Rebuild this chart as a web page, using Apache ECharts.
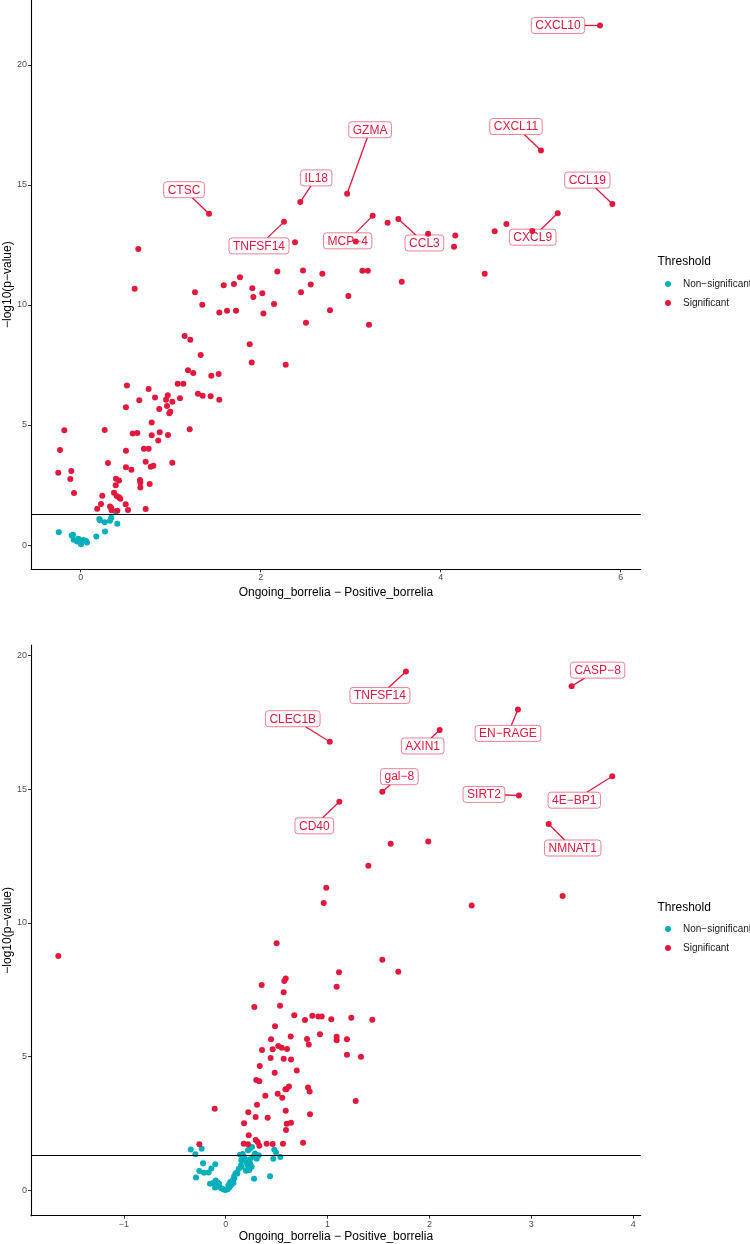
<!DOCTYPE html>
<html>
<head>
<meta charset="utf-8">
<script src="https://cdn.jsdelivr.net/npm/echarts@6/dist/echarts.min.js"></script>
<style>html,body{margin:0;padding:0;background:#fff}#c{width:750px;height:1244px}</style>
</head>
<body>
<div id="c"></div>
<script>
// ---------------- DATA ----------------
const legendNames = ['Non-significant', 'Significant'];
const xAxisTitle = 'Ongoing_borrelia − Positive_borrelia';
const yAxisTitle = '−log10(p−value)';
const threshold = 1.30103; // -log10(0.05)

// Panel A (top)
const topXTicks = [0, 2, 4, 6];
const topYTicks = [0, 5, 10, 15, 20];
const topLabelNames = ['CXCL10','CXCL11','CCL19','CXCL9','CCL3','GZMA','IL18','CTSC','TNFSF14','MCP−4'];
const topLabelX = [5.77, 5.114, 5.907, 5.30, 3.53, 2.96, 2.44, 1.426, 2.259, 3.244];
const topLabelY = [21.64, 16.43, 14.20, 13.82, 13.58, 14.63, 14.29, 13.80, 13.46, 13.71];
const topSignificant = [
 [3.056,12.64],[3.86,12.96],[5.018,13.08],[3.41,13.42],[4.162,12.89],[4.148,12.42],[4.60,13.07],[4.73,13.375],
 [4.489,11.30],[3.567,10.97],[3.13,11.42],[3.19,11.42],[2.381,12.61],[0.64,12.33],[0.60,10.67],[2.185,11.39],
 [2.47,11.43],[2.685,11.30],[1.27,10.53],[1.589,10.82],[1.703,10.875],[1.77,11.15],[1.907,10.69],[1.918,10.33],
 [2.018,10.49],[2.448,10.53],[2.556,10.85],[2.974,10.375],[1.351,10.01],[1.54,9.68],[1.626,9.76],[1.726,9.76],
 [2.03,9.64],[2.148,10.04],[2.77,9.78],[2.503,9.26],[3.203,9.18],[1.155,8.71],[1.218,8.55],[1.878,8.36],
 [1.333,7.92],[1.90,7.60],[2.278,7.51],[1.192,7.28],[1.251,7.17],[1.451,7.05],[1.533,7.125],[1.078,6.72],
 [1.14,6.72],[0.514,6.64],[0.755,6.50],[1.303,6.30],[1.355,6.22],[1.444,6.195],[0.826,6.14],[0.967,6.24],
 [0.948,6.05],[1.018,5.97],[1.103,6.11],[0.651,6.03],[1.54,6.05],[0.503,5.74],[0.873,5.67],[0.959,5.79],
 [0.996,5.55],[0.985,5.49],[-0.182,4.78],[0.267,4.79],[1.211,4.82],[0.789,5.10],[0.578,4.65],[0.629,4.67],
 [0.878,4.70],[0.789,4.57],[0.97,4.58],[0.862,4.35],[-0.23,3.96],[0.503,3.93],[0.703,4.01],[0.755,4.01],
 [0.303,3.42],[0.722,3.47],[1.018,3.43],[0.503,3.24],[0.563,3.14],[0.778,3.26],[0.807,3.30],[-0.249,3.01],
 [-0.104,3.08],[-0.115,2.75],[0.392,2.76],[0.426,2.69],[0.659,2.71],[0.663,2.61],[0.389,2.49],[0.663,2.40],
 [0.767,2.54],[-0.074,2.17],[0.37,2.18],[0.24,2.05],[0.40,2.04],[0.426,1.99],[0.44,1.93],[0.226,1.71],
 [0.50,1.70],[0.184,1.51],[0.326,1.61],[0.34,1.54],[0.344,1.45],[0.407,1.43],[0.526,1.46],[0.722,1.50]
];
const topNonSignificant = [
 [-0.244,0.53],[-0.1,0.40],[-0.086,0.43],[-0.078,0.22],[-0.027,0.26],[-0.016,0.21],[-0.041,0.15],[0.003,0.03],
 [0.03,0.21],[0.059,0.17],[0.07,0.11],[0.174,0.36],[0.27,0.56],[0.207,1.08],[0.214,1.03],[0.267,0.95],
 [0.326,1.01],[0.34,1.14],[0.407,0.89],[0.384,1.40]
];

// Panel B (bottom)
const botXTicks = [-1, 0, 1, 2, 3, 4];
const botYTicks = [0, 5, 10, 15, 20];
const botLabelNames = ['TNFSF14','CASP−8','EN−RAGE','AXIN1','CLEC1B','gal−8','SIRT2','4E−BP1','CD40','NMNAT1'];
const botLabelX = [1.769, 3.395, 2.868, 2.10, 1.021, 1.537, 2.878, 3.794, 1.115, 3.17];
const botLabelY = [19.41, 18.86, 17.99, 17.22, 16.78, 14.91, 14.77, 15.49, 14.53, 13.70];
const botSignificant = [
 [1.40,12.14],[0.987,11.31],[0.962,10.74],[1.619,12.96],[1.988,13.05],[2.414,10.65],[3.307,11.01],
 [1.537,8.62],[1.694,8.17],[1.112,8.15],[1.089,7.61],[0.778,6.36],[0.85,6.52],[0.909,6.50],[0.942,6.50],
 [1.036,6.39],[1.233,6.45],[1.439,6.37],[-1.643,8.76],[0.50,9.24],[0.353,7.67],[0.589,7.92],[0.575,7.82],
 [0.569,7.40],[0.281,6.85],[0.533,6.90],[0.673,6.54],[0.484,6.13],[0.925,5.83],[0.638,5.75],[0.445,5.64],
 [0.798,5.65],[0.815,5.45],[1.089,5.74],[1.089,5.61],[1.19,5.64],[1.19,5.06],[1.328,4.99],[0.516,5.39],
 [0.55,5.33],[0.461,5.27],[0.602,5.28],[0.356,5.24],[0.441,4.94],[0.569,4.91],[0.641,4.89],[0.334,4.64],
 [0.697,4.47],[0.481,4.39],[0.30,4.12],[0.33,4.07],[0.621,3.88],[0.586,3.77],[0.596,3.77],[0.808,3.84],
 [0.824,3.69],[0.389,3.53],[0.51,3.60],[0.555,3.45],[1.276,3.33],[0.307,3.19],[-0.108,3.04],[0.222,2.91],
 [0.589,2.97],[0.827,2.84],[0.294,2.73],[0.412,2.71],[0.18,2.50],[0.599,2.48],[0.641,2.52],[0.592,2.25],
 [0.226,2.05],[0.294,1.87],[0.314,1.80],[0.177,1.73],[0.219,1.71],[0.33,1.66],[0.402,1.73],[0.461,1.72],
 [0.562,1.73],[0.759,1.77],[-0.259,1.71]
];
const botNonSignificant = [
 [-0.343,1.52],[-0.298,1.34],[-0.236,1.55],[-0.223,1.00],[-0.259,0.71],[-0.213,0.65],[-0.291,0.47],[-0.167,0.66],
 [-0.141,0.81],[-0.102,0.97],[-0.154,0.24],[-0.125,0.26],[-0.098,0.36],[-0.082,0.29],[-0.066,0.24],[-0.105,0.10],
 [-0.069,0.12],[-0.043,0.07],[-0.024,0.03],[-0.004,0.00],[0.019,0.03],[0.035,0.10],[0.052,0.18],[0.075,0.26],
 [0.026,0.19],[0.062,0.31],[0.045,0.30],[0.069,0.37],[0.081,0.50],[0.085,0.44],[0.094,0.60],[0.108,0.66],
 [0.114,0.62],[0.128,0.80],[0.15,0.92],[0.157,0.87],[0.153,1.12],[0.19,1.12],[0.183,1.24],[0.167,1.35],
 [0.14,1.32],[0.206,1.02],[0.219,0.91],[0.238,1.00],[0.238,1.15],[0.255,0.87],[0.232,0.75],[0.199,0.72],
 [0.219,1.49],[0.238,1.55],[0.258,1.61],[0.271,1.25],[0.288,1.37],[0.304,1.17],[0.324,1.30],[0.278,0.42],
 [0.435,0.52],[0.467,1.17],[0.477,1.51],[0.494,1.41],[0.536,1.24]
];

// ---------------- LAYOUT / STYLE ----------------
// label box centre offsets (pixels) from the labelled point
const topLabelOffsets = [[-42,0],[-25,-24],[-25,-24],[-25,24],[26,24],[23,-64],[16,-24],[-25,-24],[-25,24],[-25,25]];
const botLabelOffsets = [[-26,24],[26,-16],[-10,24],[-17,16],[-37,-23],[17,-15],[-35,-1],[-38,24],[-25,24],[24,24]];

const RED = '#E2183D';
const TEAL = '#00AFBB';
const FONT = '"Liberation Sans", Arial, Helvetica, sans-serif';
const LABEL_FONT_SIZE = 12;

const mctx = document.createElement('canvas').getContext('2d');
mctx.font = LABEL_FONT_SIZE + 'px ' + FONT;

function minusFmt(v) { return String(v).replace('-', '−'); }

function makeLabelRenderer(names, offsets) {
  return function (params, api) {
    const p = api.coord([api.value(0), api.value(1)]);
    const name = names[params.dataIndex];
    const off = offsets[params.dataIndex];
    const w = mctx.measureText(name).width + 8;
    const h = 16;
    const cx = p[0] + off[0], cy = p[1] + off[1];
    const dx = cx - p[0], dy = cy - p[1];
    let s = Infinity;
    if (dx !== 0) s = Math.min(s, (w / 2) / Math.abs(dx));
    if (dy !== 0) s = Math.min(s, (h / 2) / Math.abs(dy));
    const children = [];
    if (s < 1) {
      children.push({
        type: 'line',
        shape: { x1: p[0], y1: p[1], x2: cx - s * dx, y2: cy - s * dy },
        style: { stroke: RED, lineWidth: 1.3 }
      });
    }
    children.push({
      type: 'rect',
      shape: { x: cx - w / 2, y: cy - h / 2, width: w, height: h, r: 3 },
      style: { fill: '#ffffff', stroke: 'rgba(226,24,61,0.55)', lineWidth: 1 }
    });
    children.push({
      type: 'text',
      style: {
        text: name, x: cx, y: cy + 0.5,
        textAlign: 'center', textVerticalAlign: 'middle',
        align: 'center', verticalAlign: 'middle',
        font: LABEL_FONT_SIZE + 'px ' + FONT, fill: RED
      }
    });
    return { type: 'group', children: children };
  };
}

function zip(xs, ys) { return xs.map((x, i) => [x, ys[i]]); }

function xAxisCfg(gridIndex, min, max, ticks, gap) {
  return {
    type: 'value', gridIndex, min, max,
    name: xAxisTitle, nameLocation: 'middle', nameGap: gap, nameMoveOverlap: false,
    nameTextStyle: { fontSize: 12, color: '#000', fontFamily: FONT },
    axisLine: { show: true, onZero: false, lineStyle: { color: '#000', width: 1.1 } },
    axisTick: { show: true, length: 3, customValues: ticks, lineStyle: { color: '#333' } },
    axisLabel: { customValues: ticks, formatter: minusFmt, fontSize: 9, color: '#4D4D4D', margin: 4, fontFamily: FONT },
    splitLine: { show: false }
  };
}
function yAxisCfg(gridIndex, min, max, ticks) {
  return {
    type: 'value', gridIndex, min, max,
    name: yAxisTitle, nameLocation: 'middle', nameGap: 17, nameMoveOverlap: false,
    nameTextStyle: { fontSize: 12, color: '#000', fontFamily: FONT },
    axisLine: { show: true, onZero: false, lineStyle: { color: '#000', width: 1.1 } },
    axisTick: { show: true, length: 3, customValues: ticks, lineStyle: { color: '#333' } },
    axisLabel: { customValues: ticks, formatter: minusFmt, fontSize: 9, color: '#4D4D4D', margin: 4, fontFamily: FONT },
    splitLine: { show: false }
  };
}

function thresholdLine() {
  return {
    silent: true, symbol: ['none', 'none'], animation: false,
    label: { show: false },
    lineStyle: { color: '#000', width: 1.2, type: 'solid' },
    emphasis: { disabled: true },
    data: [{ yAxis: threshold }]
  };
}

const chart = echarts.init(document.getElementById('c'), null, { renderer: 'canvas' });
chart.setOption({
  animation: false,
  backgroundColor: '#fff',
  textStyle: { fontFamily: FONT },
  title: [
    { text: 'Threshold', left: 657.5, top: 256, padding: 0,
      textStyle: { fontSize: 12, fontWeight: 'normal', color: '#000', fontFamily: FONT } },
    { text: 'Threshold', left: 657.5, top: 902, padding: 0,
      textStyle: { fontSize: 12, fontWeight: 'normal', color: '#000', fontFamily: FONT } }
  ],
  legend: [
    { data: legendNames, orient: 'vertical', left: 665, top: 277.5, padding: 0,
      itemWidth: 20, itemHeight: 6, itemGap: 6, icon: 'circle', selectedMode: false,
      formatter: minusFmt,
      textStyle: { fontSize: 10, color: '#1a1a1a', lineHeight: 13, fontFamily: FONT } },
    { data: legendNames, orient: 'vertical', left: 665, top: 922.5, padding: 0,
      itemWidth: 20, itemHeight: 6, itemGap: 6, icon: 'circle', selectedMode: false,
      formatter: minusFmt,
      textStyle: { fontSize: 10, color: '#1a1a1a', lineHeight: 13, fontFamily: FONT } }
  ],
  grid: [
    { left: 31, top: 0, width: 609.7, height: 569.3, outerBoundsMode: 'none', containLabel: false },
    { left: 31, top: 645, width: 609.7, height: 570.7, outerBoundsMode: 'none', containLabel: false }
  ],
  xAxis: [
    xAxisCfg(0, -0.552, 6.222, topXTicks, 17),
    xAxisCfg(1, -1.911, 4.073, botXTicks, 15)
  ],
  yAxis: [
    yAxisCfg(0, -1.01, 22.7, topYTicks),
    yAxisCfg(1, -0.96, 20.4, botYTicks)
  ],
  series: [
    { type: 'custom', xAxisIndex: 0, yAxisIndex: 0, z: 1, silent: true,
      renderItem: makeLabelRenderer(topLabelNames, topLabelOffsets),
      data: zip(topLabelX, topLabelY) },
    { type: 'custom', xAxisIndex: 1, yAxisIndex: 1, z: 1, silent: true,
      renderItem: makeLabelRenderer(botLabelNames, botLabelOffsets),
      data: zip(botLabelX, botLabelY) },
    { name: 'Non-significant', type: 'scatter', xAxisIndex: 0, yAxisIndex: 0, z: 3,
      symbolSize: 6, itemStyle: { color: TEAL, opacity: 1 }, data: topNonSignificant,
      markLine: thresholdLine() },
    { name: 'Significant', type: 'scatter', xAxisIndex: 0, yAxisIndex: 0, z: 3,
      symbolSize: 6, itemStyle: { color: RED, opacity: 1 },
      data: topSignificant.concat(zip(topLabelX, topLabelY)) },
    { name: 'Non-significant', type: 'scatter', xAxisIndex: 1, yAxisIndex: 1, z: 3,
      symbolSize: 6, itemStyle: { color: TEAL, opacity: 1 }, data: botNonSignificant,
      markLine: thresholdLine() },
    { name: 'Significant', type: 'scatter', xAxisIndex: 1, yAxisIndex: 1, z: 3,
      symbolSize: 6, itemStyle: { color: RED, opacity: 1 },
      data: botSignificant.concat(zip(botLabelX, botLabelY)) }
  ]
});
</script>
</body>
</html>
